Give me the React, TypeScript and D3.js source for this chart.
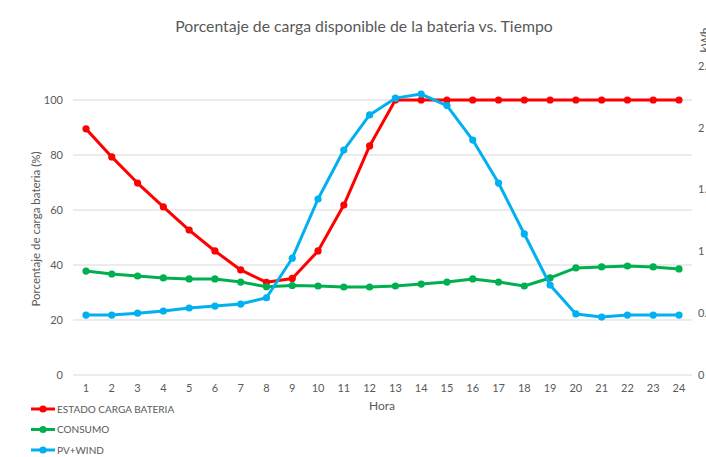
import React, { useEffect, useRef } from "react";
import * as d3 from "d3";

const hours = d3.range(1, 25).map(String);
const bateria = [89.5, 79.3, 69.8, 61.1, 52.7, 45.1, 38.2, 33.7, 35.1, 45.1, 61.8, 83.3, 100, 100, 100, 100, 100, 100, 100, 100, 100, 100, 100, 100];
const consumo = [0.841, 0.817, 0.801, 0.785, 0.777, 0.777, 0.752, 0.714, 0.724, 0.72, 0.712, 0.712, 0.72, 0.736, 0.752, 0.777, 0.752, 0.72, 0.785, 0.866, 0.874, 0.882, 0.874, 0.858];
const pvWind = [0.485, 0.485, 0.5, 0.518, 0.542, 0.558, 0.574, 0.625, 0.945, 1.424, 1.82, 2.104, 2.24, 2.273, 2.18, 1.901, 1.553, 1.141, 0.728, 0.494, 0.469, 0.485, 0.485, 0.485];
const leftTicks = [0, 20, 40, 60, 80, 100];
const rightTicks = [0, 0.5, 1, 1.5, 2, 2.5];
const seriesNames = ["ESTADO CARGA BATERIA", "CONSUMO", "PV+WIND"];
const seriesColors = ["#FF0000", "#00B050", "#00B0F0"];

const FONT = "Lato, 'Open Sans', sans-serif";
const GRAY = "#595959";

export default function App() {
  const ref = useRef<SVGSVGElement>(null);
  useEffect(() => {
    const svg = d3.select(ref.current);
    svg.selectAll("*").remove();
    const W = 706, H = 457;
    const plot = { left: 73, right: 692, top: 66, bottom: 375 };

    const x = d3.scalePoint<string>().domain(hours).range([86, 679]);
    const yL = d3.scaleLinear().domain([0, 112.36]).range([plot.bottom, plot.top]);
    const yR = d3.scaleLinear().domain([0, 2.5]).range([plot.bottom, plot.top]);

    svg.append("rect").attr("width", W).attr("height", H).attr("fill", "#fff");

    // title
    svg.append("text").attr("x", 364).attr("y", 32).attr("text-anchor", "middle")
      .attr("font-family", FONT).attr("font-size", 15.8).attr("fill", GRAY)
      .text("Porcentaje de carga disponible de la bateria vs. Tiempo");

    // gridlines
    svg.append("g").selectAll("line").data(leftTicks).join("line")
      .attr("x1", plot.left).attr("x2", plot.right)
      .attr("y1", d => yL(d)).attr("y2", d => yL(d))
      .attr("stroke", "#d9d9d9").attr("stroke-width", 1);

    // left tick labels
    svg.append("g").selectAll("text").data(leftTicks).join("text")
      .attr("x", 63).attr("y", d => yL(d)).attr("dy", "0.35em").attr("text-anchor", "end")
      .attr("font-family", FONT).attr("font-size", 11).attr("fill", GRAY)
      .text(d => String(d));

    // right tick labels
    svg.append("g").selectAll("text").data(rightTicks).join("text")
      .attr("x", 698).attr("y", d => yR(d)).attr("dy", "0.35em").attr("text-anchor", "start")
      .attr("font-family", FONT).attr("font-size", 11).attr("fill", GRAY)
      .text(d => String(d));

    // x tick labels
    svg.append("g").selectAll("text").data(hours).join("text")
      .attr("x", d => x(d)!).attr("y", 392).attr("text-anchor", "middle")
      .attr("font-family", FONT).attr("font-size", 11).attr("fill", GRAY)
      .text(d => d);

    // axis titles
    svg.append("text").attr("transform", `translate(40,229) rotate(-90)`)
      .attr("text-anchor", "middle").attr("font-family", FONT).attr("font-size", 11.5).attr("fill", GRAY)
      .text("Porcentaje de carga bateria (%)");
    svg.append("text").attr("transform", `translate(701,40) rotate(-90)`)
      .attr("text-anchor", "middle").attr("dy", "0.7em").attr("font-family", FONT).attr("font-size", 12).attr("fill", GRAY)
      .text("kWh");
    svg.append("text").attr("x", 382).attr("y", 410).attr("text-anchor", "middle")
      .attr("font-family", FONT).attr("font-size", 12).attr("fill", GRAY)
      .text("Hora");

    const series = [
      { vals: bateria, y: yL },
      { vals: consumo, y: yR },
      { vals: pvWind, y: yR },
    ];
    series.forEach((s, i) => {
      const pts = hours.map((h, j) => [x(h)!, s.y(s.vals[j])] as [number, number]);
      svg.append("path").attr("d", d3.line()(pts)!).attr("fill", "none")
        .attr("stroke", seriesColors[i]).attr("stroke-width", 3).attr("stroke-linejoin", "round");
      svg.append("g").selectAll("circle").data(pts).join("circle")
        .attr("cx", d => d[0]).attr("cy", d => d[1]).attr("r", 3.6).attr("fill", seriesColors[i]);
    });

    // legend
    const lg = svg.append("g");
    seriesNames.forEach((n, i) => {
      const yy = 409 + i * 20.5;
      lg.append("line").attr("x1", 31).attr("x2", 55).attr("y1", yy).attr("y2", yy)
        .attr("stroke", seriesColors[i]).attr("stroke-width", 3);
      lg.append("circle").attr("cx", 43).attr("cy", yy).attr("r", 3.6).attr("fill", seriesColors[i]);
      lg.append("text").attr("x", 57).attr("y", yy).attr("dy", "0.35em")
        .attr("font-family", FONT).attr("font-size", 10).attr("fill", GRAY).text(n);
    });
  }, []);
  return (
    <svg ref={ref} width={706} height={457}
      style={{ position: "absolute", left: 0, top: 0, overflow: "hidden" }} />
  );
}
